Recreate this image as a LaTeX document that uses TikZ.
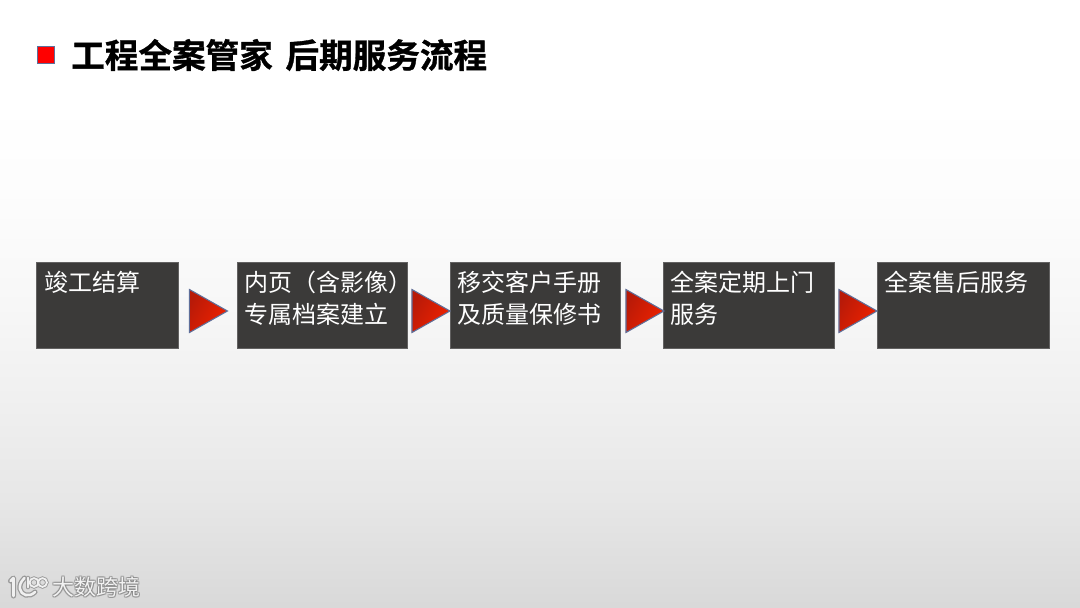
\documentclass[tikz,border=0pt]{standalone}
\usepackage{fontspec}
\setmainfont{Noto Sans CJK SC}[BoldFont={Noto Sans CJK SC Bold},BoldFeatures={FakeBold=1}]
\usetikzlibrary{shapes.geometric}
\definecolor{boxc}{HTML}{3B3A39}
\definecolor{edgec}{HTML}{5F6F9A}
\definecolor{arrowdark}{HTML}{B81A08}
\definecolor{arrowlight}{HTML}{F02200}
\pgfdeclareverticalshading{bgshade}{100bp}{rgb(0bp)=(0.85,0.85,0.85); rgb(25bp)=(0.85,0.85,0.85); rgb(33.8bp)=(0.905,0.905,0.905); rgb(42bp)=(0.94,0.94,0.94); rgb(50.3bp)=(0.97,0.97,0.97); rgb(58.5bp)=(0.99,0.99,0.99); rgb(66.8bp)=(1,1,1); rgb(100bp)=(1,1,1)}
\tikzset{
  x=0.75pt,y=-0.75pt,
  flowbox/.style={draw=boxc!80!white,line width=0.4pt,fill=boxc,text=white,anchor=north west,inner sep=0pt,font=\fontsize{18}{24}\selectfont},
  pointer/.style={isosceles triangle,isosceles triangle stretches,shape border rotate=0,draw=edgec,line width=0.8pt,shading=axis,top color=arrowdark,bottom color=arrowlight,shading angle=60,inner sep=0pt,minimum width=43*0.75pt,minimum height=38*0.75pt,anchor=center},
  wmark/.style={font=\fontsize{16.5}{16.5}\selectfont,anchor=west,inner sep=0pt},
}
\newcommand{\boxtext}[3]{\parbox[c][86\dimexpr0.75pt\relax][t]{#1\dimexpr0.75pt\relax}{\vspace{6.2pt}\leftskip=5.6pt\relax\parindent=0pt #2}}
\begin{document}
\begin{tikzpicture}
\useasboundingbox (0,0) rectangle (1080,607);
\shade[shading=bgshade] (0,0) rectangle (1080,607);
% title
\node[draw=edgec,line width=0.5pt,fill=red,minimum size=17*0.75pt,inner sep=0pt] (bullet) at (45.5,55) {};
\node[anchor=west,inner sep=0pt,font=\fontsize{25.2}{30}\selectfont\bfseries] (title) at (71,55) {工程全案管家\hspace{9.5pt}后期服务流程};
% boxes
\node[flowbox] (b1) at (36,262.2) {\boxtext{142}{\hspace{0.4pt}竣工结算}{}};
\node[flowbox] (b2) at (236.8,262.2) {\boxtext{170}{内页（含影像）\\专属档案建立}{}};
\node[flowbox] (b3) at (449.8,262.2) {\boxtext{170}{移交客户手册\\及质量保修书}{}};
\node[flowbox] (b4) at (663,262.2) {\boxtext{171}{全案定期上门\\服务}{}};
\node[flowbox] (b5) at (877,262.2) {\boxtext{172}{全案售后服务}{}};
% arrows
\node[pointer] (a1) at (202,311) {};
\node[pointer] (a2) at (424.5,311) {};
\node[pointer] (a3) at (638.5,311) {};
\node[pointer] (a4) at (851.5,311) {};
% watermark
\foreach \dx/\dy in {-1/0,1/0,0/-1,0/1,-1/-1,1/1,-1/1,1/-1}{
  \node[wmark,text=black!50,opacity=0.45] at (52+\dx,587.5+\dy) {大数跨境};
}
\node[wmark,text=black!5] (wm) at (52,587.5) {大数跨境};
\foreach \c/\w in {black!40/3.8pt,black!6/1.9pt}{
  \draw[\c,line width=\w,line cap=round,line join=round] (10.5,581) -- (13.5,578) -- (13.5,596);
  \draw[\c,line width=\w,line cap=round] (24.5,578) .. controls (20.5,582) and (19.5,585) .. (20,589) .. controls (21,595) and (29,598) .. (35,592);
  \draw[\c,line width=\w*0.7,line cap=round] (28,577.5) -- (28,587.5);
  \draw[\c,line width=\w*0.7] (34,582.5) circle[radius=4.4];
  \draw[\c,line width=\w*0.7] (42.5,582.5) circle[radius=4.4];
}
\end{tikzpicture}
\end{document}
